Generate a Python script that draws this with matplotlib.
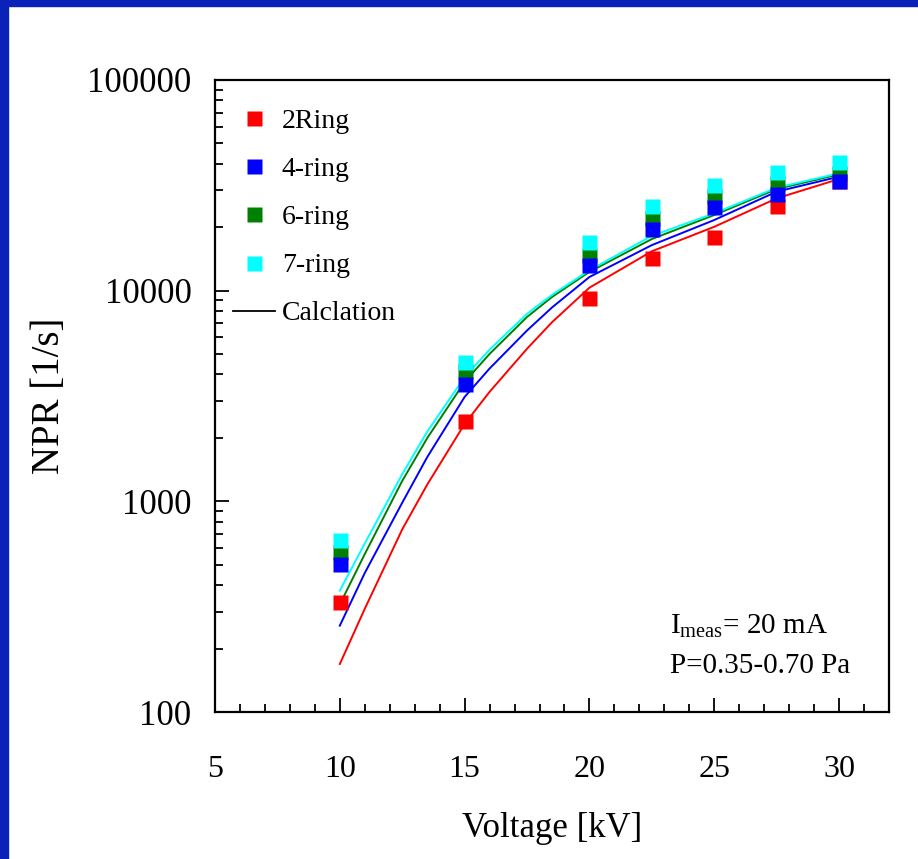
"""NPR vs voltage, measured points and calculation curves"""
import matplotlib
matplotlib.use('Agg')
import matplotlib.pyplot as plt
from matplotlib.patches import Rectangle
from matplotlib.lines import Line2D
from matplotlib.ticker import LogLocator, MultipleLocator, NullFormatter

plt.rcParams['font.family'] = ['Liberation Serif', 'DejaVu Serif']
plt.rcParams['mathtext.fontset'] = 'custom'
plt.rcParams['mathtext.rm'] = 'Liberation Serif'

# measured points
volt = [10, 15, 20, 22.5, 25, 27.5, 30]
npr_2ring = [334, 2415, 9270, 14360, 18070, 25120, 33000]
npr_4ring = [502, 3610, 13300, 19630, 24820, 28640, 33050]
npr_6ring = [572, 4140, 14840, 22180, 28050, 32360, 36070]
npr_7ring = [652, 4610, 16930, 25230, 31690, 36630, 40900]

# calculation curves
calc_v = [10, 11, 12.5, 13.5, 15, 16, 17.5, 18.5, 20, 22.5, 25, 27.5, 30]
calc_2ring = [169, 309, 736, 1200, 2330, 3310, 5300, 7080, 10330, 15380, 20100, 27420, 33880]
calc_4ring = [257, 457, 985, 1620, 3130, 4270, 6470, 8320, 11610, 16450, 21640, 29510, 34760]
calc_6ring = [324, 562, 1250, 1995, 3690, 5010, 7500, 9330, 12280, 17580, 22860, 30360, 35650]
calc_7ring = [377, 631, 1346, 2140, 3890, 5250, 7760, 9550, 12500, 18200, 23280, 30820, 36060]

colors = {'2Ring': '#ff0000', '4-ring': '#0000ff', '6-ring': '#008000', '7-ring': '#00ffff'}

fig = plt.figure(figsize=(9.18, 8.59), dpi=100)
fig.patches.append(Rectangle((0, 0), 8 / 918, 1, transform=fig.transFigure,
                             color='#0a22b8', zorder=0))
fig.patches.append(Rectangle((0, 1 - 6 / 859), 1, 6 / 859, transform=fig.transFigure,
                             color='#0a22b8', zorder=0))

ax = fig.add_axes([0.2342, 0.1711, 0.7342, 0.7358])

ms = 10.8
lw = 1.4
ax.plot(calc_v, calc_2ring, color=colors['2Ring'], lw=lw)
ax.plot(calc_v, calc_4ring, color=colors['4-ring'], lw=lw)
ax.plot(calc_v, calc_6ring, color=colors['6-ring'], lw=lw)
ax.plot(calc_v, calc_7ring, color=colors['7-ring'], lw=lw)

ax.plot(volt, npr_2ring, 's', color=colors['2Ring'], ms=ms, mec='none', zorder=3)
ax.plot(volt, npr_6ring, 's', color=colors['6-ring'], ms=ms, mec='none', zorder=3)
ax.plot(volt, npr_4ring, 's', color=colors['4-ring'], ms=ms, mec='none', zorder=4)
ax.plot(volt, npr_7ring, 's', color=colors['7-ring'], ms=ms, mec='none', zorder=4)

ax.set_yscale('log')
ax.set_xlim(5, 32)
ax.set_ylim(100, 100000)

ax.xaxis.set_major_locator(MultipleLocator(5))
ax.xaxis.set_minor_locator(MultipleLocator(1))
ax.yaxis.set_minor_locator(LogLocator(base=10, subs=range(2, 10)))
ax.yaxis.set_minor_formatter(NullFormatter())
ax.set_yticks([100, 1000, 10000, 100000])
ax.set_yticklabels(['100', '1000', '10000', '100000'])

ax.tick_params(axis='both', which='both', direction='in', top=False, right=False, width=1.3)
ax.tick_params(axis='both', which='major', length=10)
ax.tick_params(axis='both', which='minor', length=6)
ax.tick_params(axis='x', which='major', labelsize=23, pad=31)
ax.tick_params(axis='y', which='major', labelsize=25, pad=17)
for s in ax.spines.values():
    s.set_linewidth(1.6)

ax.set_xlabel('Voltage [kV]', fontsize=25, labelpad=20)
ax.set_ylabel('NPR [1/s]', fontsize=28, labelpad=14)

handles = [Line2D([], [], ls='none', marker='s', ms=ms, mec='none', color=colors[k])
           for k in ['2Ring', '4-ring', '6-ring', '7-ring']]
handles.append(Line2D([], [], color='black', lw=1.3))
ax.legend(handles, ['2Ring', '4-ring', '6-ring', '7-ring', 'Calclation'],
          loc='upper left', bbox_to_anchor=(-0.01, 0.995), frameon=False, fontsize=20,
          labelspacing=0.82, handlelength=1.5, handletextpad=0.25)

ax.text(0.675, 0.125, r'I$_{\mathrm{meas}}$= 20 mA', transform=ax.transAxes, fontsize=21)
ax.text(0.675, 0.062, 'P=0.35-0.70 Pa', transform=ax.transAxes, fontsize=21)

fig.savefig('out.png', dpi=100)
